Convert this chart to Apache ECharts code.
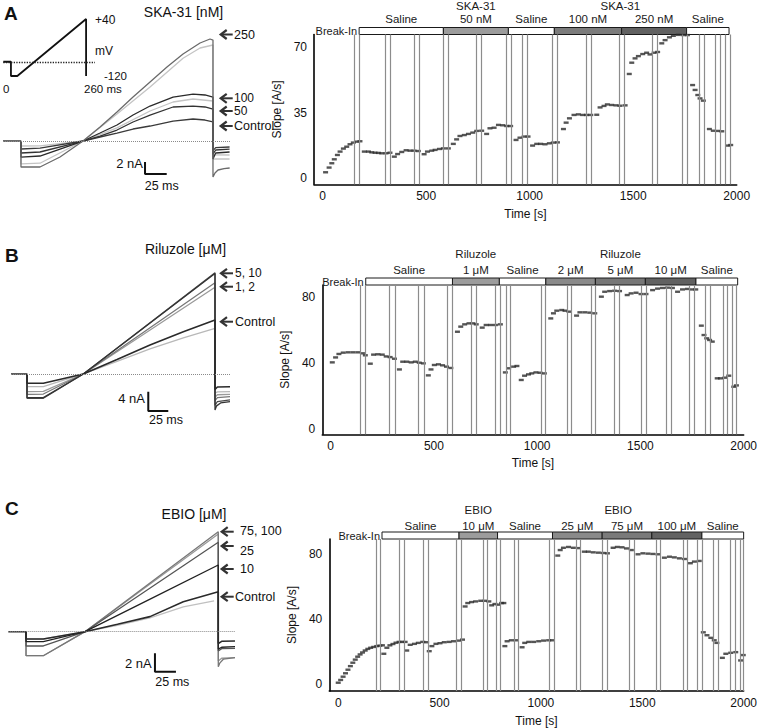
<!DOCTYPE html>
<html><head><meta charset="utf-8">
<script src="https://cdn.jsdelivr.net/npm/echarts@6/dist/echarts.min.js"></script>
<style>html,body{margin:0;padding:0;background:#fff}#c{width:760px;height:728px}</style>
</head><body><div id="c"></div>
<script>
// ---------------- DATA ----------------
// Panel A right: slope vs time (SKA-31)
const aTime = [14,31,44,56,71,84,100,116,132,148,164,180,
 201,221,237,253,269,285,306,325,
 346,362,382,403,422,441,462,
 490,506,527,543,564,583,607,
 631,647,663,684,704,725,744,768,
 792,808,828,849,870,889,908,
 934,953,973,992,
 1014,1034,1053,1074,1095,1114,1134,
 1163,1176,1192,1214,1235,1256,1275,1295,1324,
 1340,1359,1375,1396,1417,1436,1461,
 1481,1493,1509,1525,1546,1565,1581,1601,1618,
 1638,1654,1675,1694,1718,1742,1762,
 1787,1799,1812,1823,1839,
 1868,1887,1907,1928,
 1960,1971];
const aSlope = [3.2,5.7,8.0,10.1,12.4,14.2,15.8,16.8,18.1,19.0,19.5,19.7,
 14.2,14.2,13.8,13.6,13.5,13.3,13.3,13.6,
 11.5,12.9,14.0,14.9,14.7,14.7,14.5,
 12.8,14.2,14.7,15.1,15.6,15.9,15.9,
 18.3,20.7,22.5,23.0,23.6,24.3,25.2,25.3,
 23.6,26.6,26.9,28.4,28.2,27.8,27.8,
 20.4,21.6,22.2,22.2,
 17.4,18.3,18.3,18.1,18.6,19.0,19.1,
 26.2,29.6,31.9,33.7,34.0,33.7,33.7,33.7,33.8,
 37.7,38.5,39.3,39.0,38.8,38.6,38.8,
 55.5,61.5,63.8,65.0,66.1,66.8,65.9,66.8,67.2,
 71.8,73.5,75.0,75.8,76.3,76.2,76.2,
 49.6,47.0,44.3,42.5,41.3,
 26.2,25.3,25.2,25.0,
 17.4,17.7];
const aLinesT = [151,177,301,325,443,467,583,607,744,768,889,913,966,990,1111,1135,1271,1296,1433,1457,1593,1618,1739,1763,1818,1842,1895,1920,1944,1968];
const aBarEdges = [176,583,897,1119,1444,1758,1963];
const aBarLabels = ['Saline','50 nM','Saline','100 nM','250 nM','Saline'];
const aGroupT = [740,1438];
const aGroupNames = ['SKA-31','SKA-31'];
const aYTicks = [0,35,70];

// Panel B right (Riluzole)
const bTime = [8,24,40,61,85,109,133,154,168,
 192,208,229,250,269,288,309,
 333,349,369,390,410,429,449,
 473,486,502,522,542,561,582,
 614,630,649,670,689,705,
 734,753,774,798,822,
 846,862,886,902,
 923,939,958,974,994,1014,1035,
 1066,1079,1095,1119,1135,1154,
 1191,1207,1231,1255,1279,
 1311,1327,1351,1375,1399,
 1436,1455,1479,1503,1527,
 1559,1583,1607,1631,1655,
 1680,1704,1728,1752,1768,
 1795,1808,1821,1835,1848,
 1872,1888,1909,1928,
 1952,1965];
const bSlope = [40.5,43.5,45.6,46.4,46.6,46.6,46.6,46.0,44.8,
 39.7,45.2,45.4,45.2,44.1,43.7,42.7,
 36.2,40.9,40.9,40.5,40.9,40.3,39.9,
 32.6,36.2,38.9,39.3,38.7,37.9,37.1,
 59.1,62.2,63.6,64.2,64.2,63.6,
 61.6,63.2,63.2,63.2,63.6,
 34.4,36.9,37.9,38.3,
 29.8,32.4,33.2,33.8,34.4,34.2,33.8,
 67.2,70.3,71.9,72.3,71.9,71.3,
 68.9,70.9,70.9,70.7,70.3,
 80.4,83.4,83.8,84.0,83.8,
 81.4,82.4,82.8,82.0,82.0,
 84.4,85.3,85.7,85.9,85.7,
 83.4,84.8,85.1,84.8,84.8,
 62.8,57.1,55.1,54.1,53.1,
 30.8,30.8,31.2,32.4,
 25.7,26.5];
const bLinesT = [144,167,285,311,426,452,567,590,681,703,798,819,849,872,1018,1040,1144,1167,1260,1282,1375,1399,1503,1527,1623,1647,1736,1760,1816,1840,1899,1920,1944,1965];
const bBarEdges = [170,590,817,1042,1282,1524,1769,1971];
const bBarLabels = ['Saline','1 μM','Saline','2 μM','5 μM','10 μM','Saline'];
const bGroupT = [703,1403];
const bGroupNames = ['Riluzole','Riluzole'];
const bYTicks = [0,40,80];

// Panel C right (EBIO)
const cTime = [0,12,24,36,48,60,72,84,96,108,120,133,146,160,175,190,205,218,
 225,240,255,270,285,300,315,330,
 338,355,376,395,417,436,
 449,462,482,502,523,547,569,593,613,
 626,639,658,678,703,724,743,
 757,773,789,806,817,
 822,833,854,877,
 907,920,940,964,989,1013,1038,1057,
 1083,1095,1111,1136,1160,1185,
 1214,1234,1258,1283,1307,1328,
 1356,1377,1400,1422,1446,
 1479,1503,1528,1552,1577,
 1609,1634,1658,1683,1708,
 1737,1757,1781,
 1801,1819,1838,1855,1868,
 1895,1912,1936,1961,
 1985,1998];
const cSlope = [1,2.7,4.7,6.8,9,11.2,13.3,15.2,17,18.4,19.6,20.8,21.8,22.5,23,23.5,23.8,24,
 18.8,22.5,24.0,24.8,25.6,26.1,26.1,26.1,
 20.8,24.3,24.9,25.5,26.1,25.9,
 20.4,23.5,24.9,25.3,25.9,26.1,26.5,26.9,27.5,
 47.9,50.0,50.6,51.0,51.4,51.4,51.0,
 48.6,49.4,49.0,50.0,50.0,
 23.5,26.5,27.1,27.1,
 22.8,25.5,26.1,26.1,26.5,26.9,27.1,27.1,
 79.2,82.6,84.0,84.5,84.0,83.8,
 81.6,81.6,81.2,81.0,80.8,80.6,
 84.0,84.5,84.3,83.6,82.6,
 80.0,80.6,80.4,80.2,80.0,
 77.9,78.5,78.1,77.5,77.1,
 74.5,75.5,75.9,
 32.0,30.2,28.6,27.1,25.5,
 16.3,18.8,19.4,19.8,
 14.7,18.0];
const cLinesT = [188,209,302,327,420,443,583,606,714,735,779,801,866,887,1041,1064,1172,1194,1304,1327,1435,1458,1569,1590,1703,1724,1773,1794,1851,1873,1936,1961,1985,1999];
const cBarEdges = [216,596,786,1057,1302,1547,1794,2000];
const cBarLabels = ['Saline','10 μM','Saline','25 μM','75 μM','100 μM','Saline'];
const cGroupT = [691,1381];
const cGroupNames = ['EBIO','EBIO'];
const cYTicks = [0,40,80];

const xTicks = [0,500,1000,1500,2000];

// Left traces: [ms, nA]
const aCtrl = [[0,0],[20.7,0],[20.7,-1.33],[42.6,-1.17],[92.2,0],[111.8,0.67],[131.3,1.33],[149.8,2],[169.4,2.5],[195.9,3.33],[218.9,3.67],[232.7,3.5],[241.9,3.17],[241.9,-1.6],[245,-1.1],[261,-1.0]];
const a50 = [[20.7,0],[20.7,-2],[42.6,-1.83],[92.2,0],[111.8,0.83],[131.3,1.83],[149.8,3.17],[169.4,4.33],[195.9,5.67],[218.9,5.83],[232.7,5.67],[241.9,5.33],[241.9,-2.2],[245,-1.5],[261,-1.35]];
const a100 = [[20.7,0],[20.7,-2.67],[42.6,-2.5],[92.2,0],[111.8,1.33],[131.3,2.67],[149.8,4.33],[169.4,5.83],[195.9,7.33],[218.9,7.83],[232.7,7.67],[241.9,7.33],[241.9,-3],[245,-2],[261,-1.83]];
const a250 = [[20.7,0],[20.7,-4.33],[42.6,-4.33],[65.7,-2.67],[92.2,0],[111.8,2.33],[131.3,4.83],[149.8,7.33],[169.4,9.83],[188.9,12.33],[207.4,14.5],[227,16.33],[238.5,17],[241.9,16.83],[241.9,-6],[244.2,-5.33],[247.7,-4.83],[254.6,-4.6],[261.1,-4.5]];
const aLight250 = [[20.7,0],[20.7,-3.8],[42.6,-3.7],[92.2,0],[131.3,4.5],[169.4,9.0],[207.4,13.8],[227,15.5],[241.9,16],[241.9,-3.0],[261,-3.0]];
const aLight100 = [[20.7,0],[20.7,-0.83],[42.6,-0.8],[92.2,0],[131.3,2.2],[169.4,5.0],[195.9,6.5],[218.9,7.0],[241.9,6.67],[241.9,-2.3],[261,-2.33]];
const protoT = [0,24,24,44,260,260];
const protoMV = [-80,-80,-120,-120,40,-120];

const bCtrl = [[0,0],[20,0],[20,-1.93],[40.4,-1.93],[90.4,0],[132.5,3.0],[173.75,6.0],[215.4,8.76],[255,11.18],[255,-3.2],[258,-2.7],[273.75,-2.63]];
const bCtrlLight = [[20,0],[20,-2.63],[40.4,-2.6],[90.4,0],[132.5,2.6],[173.75,5.2],[215.4,7.5],[255,9.46],[255,-4.0],[258,-3.7],[273.75,-3.66]];
const bR1 = [[20,0],[20,-3.66],[40.4,-3.6],[90.4,0],[255,17.95],[255,-4.8],[258,-4.3],[273.75,-4.2]];
const bR2 = [[20,0],[20,-4.2],[40.4,-4.15],[90.4,0],[255,18.9],[255,-5.5],[258,-4.9],[273.75,-4.7]];
const bR5 = [[20,0],[20,-5.03],[40.4,-5.03],[90.4,0],[255,20.97],[255,-6.5],[258,-5.7],[273.75,-5.38]];
const bR10 = [[20,0],[20,-4.9],[40.4,-4.9],[90.4,0],[255,20.8],[255,-7.45],[257,-6.6],[262,-6.0],[273.75,-5.7]];

const cCtrl = [[0,0],[21.1,0],[21.1,-0.8],[41.7,-0.8],[91.3,0],[130,0.8],[168.7,1.64],[208.3,3.27],[250,4.36],[250,-1.3],[254,-1.05],[269.9,-1.01]];
const cCtrlLight = [[21.1,0],[21.1,-0.8],[41.7,-0.8],[91.3,0],[130,0.7],[168.7,1.5],[208.3,2.7],[245,3.35]];
const cE10 = [[21.1,0],[21.1,-1.09],[41.7,-1.09],[91.3,0],[170,3.6],[250,7.27],[250,-1.9],[254,-1.7],[269.9,-1.64]];
const cE25 = [[21.1,0],[21.1,-1.56],[41.7,-1.56],[91.3,0],[250,9.75],[250,-2.1],[254,-1.85],[269.9,-1.81]];
const cE75 = [[21.1,0],[21.1,-2.62],[41.7,-2.62],[91.3,0],[250,10.65],[250,-3.2],[254,-2.9],[269.9,-2.84]];
const cE100 = [[21.1,0],[21.1,-2.62],[41.7,-2.62],[91.3,0],[250,10.9],[250,-3.82],[252,-3.4],[256,-3.0],[269.9,-2.84]];

// scale bars: [nA, ms]
const aScale = [2,25], bScale = [4,25], cScale = [2,25];

// ---------------- LAYOUT / STYLE ----------------
const FONT = '"Liberation Sans", Arial, Helvetica, sans-serif';
const aFills = ['#fff','#9c9c9c','#fff','#7c7c7c','#616161','#fff'];
const bFills = ['#fff','#9c9c9c','#fff','#8a8a8a','#777','#616161','#fff'];
const cFills = ['#fff','#9c9c9c','#fff','#8a8a8a','#7a7a7a','#626262','#fff'];

const grids = [
  {left:3, top:30, width:227, height:155},        // 0 A-left
  {left:3.3, top:19, width:91.7, height:57},      // 1 A inset
  {left:314, top:34.5, width:422.7, height:149.8},// 2 A-right
  {left:11, top:260, width:219, height:155},      // 3 B-left
  {left:322.3, top:285, width:424.4, height:149.3},// 4 B-right
  {left:8.3, top:520, width:226.7, height:160},   // 5 C-left
  {left:329.3, top:539, width:417, height:152.7}  // 6 C-right
];
const hidden = (g, min, max) => ({type:'value', gridIndex:g, min, max, show:false, splitLine:{show:false}});
const axisLine = {show:true, onZero:false, lineStyle:{color:'#000', width:1.6}};
const plain = v => String(v);
function rx(g, min, gap){ return {type:'value', gridIndex:g, min, max:2000, axisLine, axisTick:{show:false}, splitLine:{show:false},
  axisLabel:{customValues:xTicks, formatter:plain, margin:6, color:'#111', fontSize:12, fontFamily:FONT},
  name:'Time [s]', nameLocation:'middle', nameGap:gap, nameTextStyle:{color:'#111', fontSize:12, fontFamily:FONT}}; }
function ry(g, min, max, ticks, gap){ return {type:'value', gridIndex:g, min, max, axisLine, axisTick:{show:false}, splitLine:{show:false},
  axisLabel:{customValues:ticks, formatter:plain, margin:7, color:'#111', fontSize:12, fontFamily:FONT},
  name:'Slope [A/s]', nameLocation:'middle', nameGap:gap, nameTextStyle:{color:'#111', fontSize:12, fontFamily:FONT}}; }

const xAxis = [hidden(0,0,261.5), hidden(1,0,288), rx(2,-42,24), hidden(3,0,273.75), rx(4,-40.4,23), hidden(5,0,269.9), rx(6,-44,24)];
const yAxis = [hidden(0,-7.33,18.5), hidden(1,-120,40), ry(2,-3.2,76.5,aYTicks,25), hidden(3,-8.49,23.6), ry(4,-3.2,87.5,bYTicks,25), hidden(5,-5.27,12.18), ry(6,-4.1,89.4,cYTicks,25)];

function trace(g, data, color, w){ return {type:'line', xAxisIndex:g, yAxisIndex:g, data, showSymbol:false, symbol:'none', silent:true, animation:false,
  lineStyle:{color, width:w||1.3}, z:2}; }
function baseline(g){ return {type:'line', xAxisIndex:g, yAxisIndex:g, data:[], silent:true, animation:false,
  markLine:{silent:true, symbol:['none','none'], label:{show:false}, animation:false, lineStyle:{color:'#8a8a8a', type:'dotted', width:1}, data:[{yAxis:0}]}}; }
function scaleBar(g, sc, anchorMs, anchorNA){ return {type:'line', xAxisIndex:g, yAxisIndex:g, silent:true, animation:false, showSymbol:false, symbol:'none',
  data:[[anchorMs, anchorNA+sc[0]],[anchorMs, anchorNA],[anchorMs+sc[1], anchorNA]], lineStyle:{color:'#111', width:2}}; }
function scatter(g, times, slopes, lines){ return {type:'scatter', xAxisIndex:g, yAxisIndex:g, silent:true, animation:false,
  data: times.map((t,i)=>[t, slopes[i]]), symbol:'rect', symbolSize:[5,2.4], itemStyle:{color:'#2a2a2a'}, z:4,
  markLine:{silent:true, symbol:['none','none'], label:{show:false}, animation:false, lineStyle:{color:'#8c8c8c', width:1.2, type:'solid'},
    data: lines.map(t=>({xAxis:t}))}}; }
function bar(g, edges, labels, fills, rowGap){ return {type:'custom', xAxisIndex:g, yAxisIndex:g, silent:true, animation:false, clip:false,
  data: labels.map((l,i)=>[edges[i], edges[i+1], i]),
  renderItem(params, api){
    const i = api.value(2), cs = params.coordSys, h = 7;
    const x0 = api.coord([api.value(0), 0])[0], x1 = api.coord([api.value(1), 0])[0];
    const yb = cs.y;
    const kids = [
      {type:'rect', shape:{x:x0, y:yb-h, width:x1-x0, height:h}, style:{fill:fills[i], stroke:'#1a1a1a', lineWidth:1}},
      {type:'text', style:{text:labels[i], x:(x0+x1)/2, y:yb-h-rowGap, align:'center', verticalAlign:'middle', font:'11.5px '+FONT, fill:'#1a1a1a'}}
    ];
    if (i===0) kids.push({type:'text', style:{text:'Break-In', x:x0-2, y:yb-h/2, align:'right', verticalAlign:'middle', font:'11px '+FONT, fill:'#1a1a1a'}});
    return {type:'group', children:kids};
  }}; }
function groups(g, times, names, gap){ return {type:'custom', xAxisIndex:g, yAxisIndex:g, silent:true, animation:false, clip:false,
  data: times.map((t,i)=>[t, i]),
  renderItem(params, api){
    const x = api.coord([api.value(0), 0])[0];
    return {type:'text', style:{text:names[api.value(1)], x, y:params.coordSys.y-7-gap, align:'center', verticalAlign:'middle', font:'11.5px '+FONT, fill:'#1a1a1a'}};
  }}; }

const series = [
  baseline(0),
  trace(0, aLight250, '#c4c4c4'), trace(0, aLight100, '#c4c4c4'),
  trace(0, aCtrl, '#3a3a3a'), trace(0, a50, '#333'), trace(0, a100, '#2a2a2a'), trace(0, a250, '#6a6a6a'),
  scaleBar(0, aScale, 163.6, -5.5),
  {type:'line', xAxisIndex:1, yAxisIndex:1, silent:true, animation:false, showSymbol:false, symbol:'none',
    data: protoT.map((t,i)=>[t, protoMV[i]]), lineStyle:{color:'#111', width:1.8},
    markLine:{silent:true, symbol:['none','none'], label:{show:false}, animation:false, lineStyle:{color:'#222', type:'dotted', width:1.3}, data:[{yAxis:-80}]}},
  scatter(2, aTime, aSlope, aLinesT), bar(2, aBarEdges, aBarLabels, aFills, 9), groups(2, aGroupT, aGroupNames, 22),
  baseline(3),
  trace(3, bCtrlLight, '#b8b8b8'), trace(3, bR1, '#9a9a9a'), trace(3, bR2, '#777'), trace(3, bR5, '#4a4a4a'), trace(3, bR10, '#333'),
  trace(3, bCtrl, '#2a2a2a', 1.6),
  scaleBar(3, bScale, 171.6, -7.66),
  scatter(4, bTime, bSlope, bLinesT), bar(4, bBarEdges, bBarLabels, bFills, 8.5), groups(4, bGroupT, bGroupNames, 24.5),
  baseline(5),
  trace(5, cCtrlLight, '#c0c0c0'), trace(5, cE75, '#9a9a9a'), trace(5, cE100, '#777'), trace(5, cE25, '#555'), trace(5, cE10, '#222'),
  trace(5, cCtrl, '#2a2a2a', 1.6),
  scaleBar(5, cScale, 174.6, -4.36),
  scatter(6, cTime, cSlope, cLinesT), bar(6, cBarEdges, cBarLabels, cFills, 6.5), groups(6, cGroupT, cGroupNames, 22)
];

function txt(s, x, y, size, align, bold){ return {type:'text', x, y, silent:true,
  style:{text:s, font:(bold?'bold ':'')+size+'px '+FONT, fill:'#111', align:align||'left', verticalAlign:'middle'}}; }
function arrow(x, y){ return {type:'group', silent:true, children:[
  {type:'line', shape:{x1:x+1, y1:y, x2:x+12, y2:y}, style:{stroke:'#333', lineWidth:2}},
  {type:'polyline', shape:{points:[[x+6,y-4.5],[x,y],[x+6,y+4.5]]}, style:{stroke:'#333', lineWidth:2.2, fill:null}}]}; }

const graphic = [
  txt('A', 4, 13, 19, 'left', true), txt('B', 5, 255, 19, 'left', true), txt('C', 5, 508, 19, 'left', true),
  txt('SKA-31 [nM]', 183.5, 12, 14, 'center'), txt('Riluzole [μM]', 185.5, 249, 14, 'center'), txt('EBIO [μM]', 194, 514, 14, 'center'),
  txt('+40', 95, 20, 12), txt('mV', 95, 51, 12), txt('-120', 104, 76, 11.5), txt('0', 3, 89, 11.5), txt('260 ms', 84, 89, 11.5),
  txt('2 nA', 143, 163, 13, 'right'), txt('25 ms', 161.7, 186, 12.5, 'center'),
  txt('4 nA', 145, 398, 13, 'right'), txt('25 ms', 166, 420, 12.5, 'center'),
  txt('2 nA', 151.7, 663, 13, 'right'), txt('25 ms', 172.3, 681.7, 12.5, 'center'),
  arrow(220.7, 34.5), txt('250', 234, 34.5, 12.5),
  arrow(220.7, 98.3), txt('100', 234, 97.8, 12),
  arrow(220.7, 111), txt('50', 234, 111.2, 12),
  arrow(220.7, 126), txt('Control', 234, 126, 12.5),
  arrow(221, 273.3), txt('5, 10', 235, 272.9, 12),
  arrow(221, 286.7), txt('1, 2', 235, 287, 12),
  arrow(221, 321.7), txt('Control', 235, 321.7, 12.5),
  arrow(221.7, 531.7), txt('75, 100', 240, 530.7, 12.5),
  arrow(221.7, 546), txt('25', 240, 551, 12.5),
  arrow(221.7, 569), txt('10', 240, 569.3, 12.5),
  arrow(221.7, 596.7), txt('Control', 235, 596.7, 12.5)
];

const chart = echarts.init(document.getElementById('c'), null, {renderer:'svg', width:760, height:728});
chart.setOption({animation:false, backgroundColor:'#fff', grid:grids, xAxis, yAxis, series, graphic});
</script></body></html>
